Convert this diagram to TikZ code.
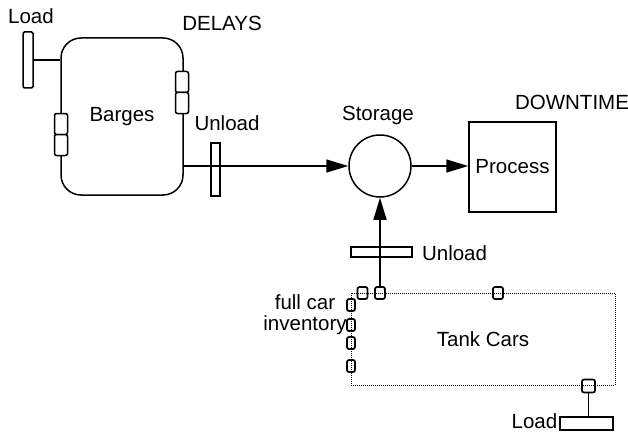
\documentclass[tikz,border=0pt]{standalone}
\usepackage{fontspec}
\setmainfont{Liberation Sans}
\usetikzlibrary{arrows.meta, positioning}

\begin{document}
\begin{tikzpicture}[x=1pt, y=-1pt, line width=1.5pt,
    every node/.style={font=\fontsize{20.5}{21}\selectfont, align=center},
    bar/.style={draw, inner sep=0pt},
    delay/.style={draw, fill=white, rounded corners=2pt, inner sep=0pt, minimum width=13pt, minimum height=21pt},
    gate/.style={draw, rounded corners=2pt, inner sep=0pt, line width=1.7pt},
    flow/.style={-{Triangle[length=22pt, width=13pt]}}
]
\useasboundingbox (0,0) rectangle (628,433);
% Barges loop
\node[draw, rounded corners=20pt, minimum width=122pt, minimum height=157pt] (barges) at (122,116.5) {Barges};
\node[bar, rounded corners=1.5pt, minimum width=10pt, minimum height=56pt] (bload) at (28,60) {};
\node (bloadlbl) at (31,16) {Load};
\draw (bload.east) -- (bload.east -| barges.west);
\foreach \y [count=\i] in {82,103} \node[delay] (dr\i) at (182,\y) {};
\foreach \y [count=\i] in {124,145} \node[delay] (dl\i) at (61,\y) {};
\node (delays) at (222,23) {DELAYS};
% Storage and process
\node[circle, draw, minimum size=62pt] (storage) at (380,166) {};
\node (storagelbl) at (378,115) {Storage};
\node[bar, minimum width=9pt, minimum height=53pt] (bunload) at (215.5,169.5) {};
\node (bunloadlbl) at (227,123) {Unload};
\draw[flow] (barges.east |- storage.west) -- (storage.west);
\node[draw, minimum width=87pt, minimum height=90pt] (process) at (512.5,167) {Process};
\draw[flow] (storage.east) -- (storage.east -| process.west);
\node[inner sep=1pt] (downtime) at (572,102) {DOWNTIME};
% Tank cars
\node[draw, dash pattern=on 1pt off 1pt, line width=1pt, minimum width=264pt, minimum height=92pt] (tank) at (483,339) {Tank Cars};
\node[bar, minimum width=61pt, minimum height=10pt] (tunload) at (381.5,252) {};
\node[anchor=west] (tunloadlbl) at (418,253) {Unload};
\foreach \x/\n in {362.5/t1, 380/t2, 498/t3} \node[gate, minimum width=10pt, minimum height=12pt] (\n) at (\x,293) {};
\node[gate, minimum width=13pt, minimum height=13pt] (t4) at (588.5,386) {};
\foreach \y [count=\i] in {305,325,343,366} \node[gate, minimum width=8pt, minimum height=12pt] (inv\i) at (351,\y) {};
\node (invlbl) at (305,315) {full car\\inventory};
\draw[flow] (t2.north) -- (storage.south);
\node[bar, minimum width=53pt, minimum height=13pt] (tload) at (586.5,423.5) {};
\node[anchor=east, inner sep=1pt] (tloadlbl) at (559,421) {Load};
\draw (t4.south) -- (t4.south |- tload.north);
\end{tikzpicture}
\end{document}
